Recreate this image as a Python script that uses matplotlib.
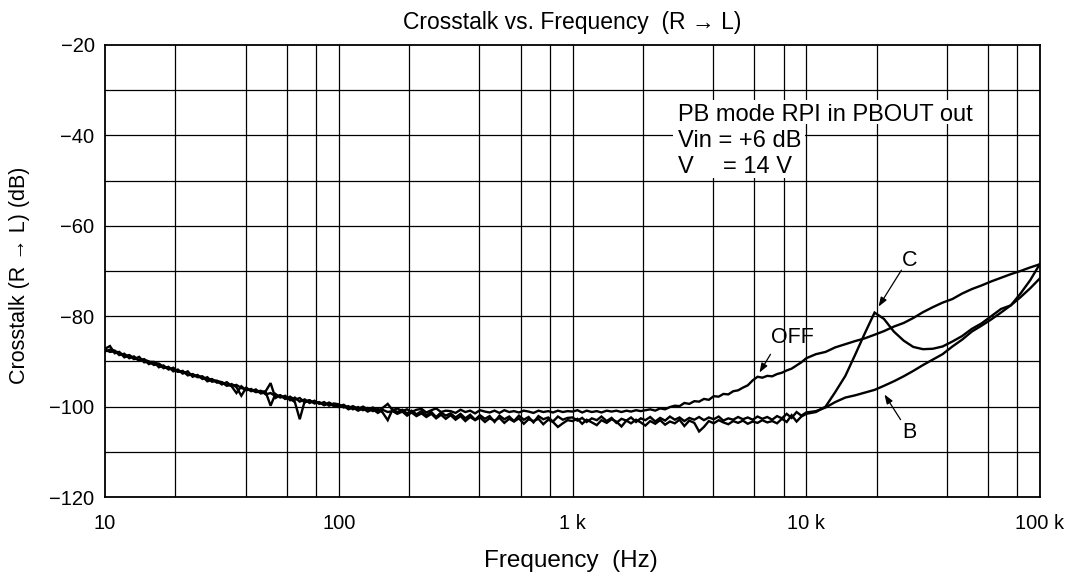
import matplotlib
matplotlib.use("Agg")
import matplotlib.pyplot as plt
from matplotlib.patches import Rectangle
from matplotlib.ticker import FixedLocator, NullLocator

plt.rcParams["font.family"] = ["Liberation Sans", "DejaVu Sans"]

# Measurement frequencies (Hz)
freq_hz = [
    10.0, 10.5, 11.0, 11.5, 12.1, 12.7, 13.3, 14.0, 14.7, 15.4, 16.2, 17.0,
    17.8, 18.7, 19.6, 20.5, 21.5, 22.6, 23.7, 24.9, 26.1, 27.4, 28.7, 30.1,
    31.6, 33.2, 34.8, 36.5, 38.3, 40.2, 42.2, 44.2, 46.4, 48.7, 51.1, 53.6,
    56.2, 59.0, 61.9, 64.9, 68.1, 71.5, 75.0, 78.7, 82.5, 86.6, 90.9, 95.3,
    100, 105, 110, 115, 121, 127, 133, 140, 147, 154, 162, 170,
    178, 187, 196, 205, 215, 226, 237, 249, 261, 274, 287, 301,
    316, 332, 348, 365, 383, 402, 422, 442, 464, 487, 511, 536,
    562, 590, 619, 649, 681, 715, 750, 787, 825, 866, 909, 953,
    1000, 1050, 1100, 1150, 1210, 1270, 1330, 1400, 1470, 1540, 1620, 1700,
    1780, 1870, 1960, 2050, 2150, 2260, 2370, 2490, 2610, 2740, 2870, 3010,
    3160, 3320, 3480, 3650, 3830, 4020, 4220, 4420, 4640, 4870, 5110, 5360,
    5620, 5900, 6190, 6490, 6810, 7150, 7500, 7870, 8250, 8660, 9090, 9530,
    10000, 11000, 12100, 13300, 14700, 16200, 17800, 19600, 21500, 23700,
    26100, 28700, 31600, 34800, 38300, 42200, 46400, 51100, 56200, 61900,
    68100, 75000, 82500, 90900, 100000,
]

# Crosstalk (dB), mode OFF
xt_off = [
    -87.2, -86.6, -88.2, -87.9, -89.1, -88.7, -89.5, -89.0, -90.2, -90.1, -90.1, -91.3,
    -90.9, -91.8, -91.4, -92.3, -92.1, -93.1, -92.8, -93.4, -93.3, -94.4, -94.1, -94.3,
    -95.1, -94.6, -95.5, -97.0, -95.5, -96.4, -96.1, -96.8, -96.7, -96.6, -94.8, -98.1,
    -97.5, -98.3, -97.8, -98.5, -98.1, -99.1, -98.6, -99.3, -99.0, -99.7, -99.1, -99.7,
    -99.9, -99.6, -100.3, -99.9, -100.5, -100.0, -100.6, -100.2, -100.9, -100.3, -99.4, -100.8,
    -100.4, -101.0, -100.6, -101.2, -100.7, -100.5, -101.3, -100.8, -100.4, -101.2, -100.9, -101.0,
    -101.4, -100.7, -101.2, -100.9, -101.5, -100.8, -101.1, -101.3, -100.9, -101.4, -100.8, -101.2,
    -101.0, -101.3, -100.9, -101.1, -101.4, -100.9, -101.2, -101.0, -101.3, -100.9, -101.2, -101.0,
    -101.1, -100.8, -101.3, -100.9, -101.2, -101.0, -101.3, -100.9, -101.1, -100.9, -101.2, -100.9,
    -101.1, -100.8, -101.0, -100.8, -100.6, -100.9, -100.4, -100.6, -100.1, -99.8, -99.9, -99.2,
    -99.4, -98.8, -98.9, -98.3, -98.5, -97.7, -97.8, -97.2, -97.3, -96.6, -96.4, -95.8,
    -95.3, -94.2, -93.4, -93.6, -93.2, -93.3, -92.8, -92.5, -92.0, -91.6, -90.9, -90.2,
    -89.3, -88.4, -87.9, -86.9, -86.2, -85.5, -84.9, -84.1, -83.3, -82.3,
    -81.5, -80.4, -79.1, -78.0, -77.0, -76.2, -75.0, -74.0, -73.2, -72.3,
    -71.5, -70.7, -70.0, -69.2, -68.5,
]

# Crosstalk (dB), mode B
xt_b = [
    -87.8, -87.4, -87.6, -88.6, -88.3, -89.3, -88.9, -89.8, -89.5, -90.6, -90.2, -90.6,
    -91.5, -91.2, -92.2, -91.8, -92.7, -92.2, -93.4, -93.0, -93.9, -93.5, -94.5, -94.3,
    -94.6, -95.4, -95.0, -95.7, -97.6, -95.8, -96.6, -96.2, -97.1, -96.8, -99.8, -97.2,
    -98.0, -97.6, -98.6, -98.0, -98.9, -98.4, -99.2, -98.7, -99.4, -99.0, -99.8, -99.3,
    -99.5, -100.2, -99.9, -100.6, -100.1, -100.8, -100.3, -101.0, -100.5, -101.3, -103.0, -100.6,
    -101.2, -100.7, -101.5, -100.9, -101.7, -101.0, -101.9, -101.2, -102.3, -101.3, -102.0, -101.5,
    -102.4, -101.6, -102.6, -101.8, -102.9, -101.9, -102.7, -102.1, -103.4, -102.0, -102.8, -102.2,
    -103.2, -102.0, -102.9, -102.3, -103.5, -102.1, -102.8, -102.4, -103.3, -102.2, -102.9, -102.5,
    -102.4, -103.1, -102.5, -103.4, -102.6, -103.0, -102.2, -103.2, -102.5, -103.6, -102.7, -103.1,
    -102.4, -103.4, -102.6, -103.0, -102.3, -103.3, -102.5, -103.1, -102.2, -102.9, -102.4, -103.2,
    -102.5, -102.9, -102.3, -103.0, -102.4, -102.8, -102.2, -103.1, -102.6, -102.9, -102.3, -102.8,
    -102.4, -102.9, -102.2, -102.7, -102.3, -102.9, -102.1, -102.6, -101.6, -102.5, -101.2, -102.0,
    -101.3, -101.0, -100.2, -99.0, -98.0, -97.5, -96.9, -96.3, -95.4, -94.4,
    -93.3, -92.1, -90.8, -89.6, -88.4, -86.7, -85.2, -83.4, -82.1, -80.7,
    -79.2, -77.6, -75.8, -73.8, -71.6,
]

# Crosstalk (dB), mode C
xt_c = [
    -87.4, -87.9, -87.8, -88.0, -88.8, -88.6, -89.3, -89.7, -89.6, -90.0, -90.8, -90.5,
    -91.2, -91.6, -91.7, -92.3, -92.2, -92.9, -92.9, -93.5, -93.4, -94.0, -93.9, -94.7,
    -94.6, -95.2, -95.4, -95.2, -95.9, -96.2, -96.4, -96.7, -96.5, -97.3, -97.0, -97.7,
    -97.5, -98.2, -98.3, -99.0, -102.8, -98.8, -98.6, -99.2, -99.1, -99.6, -99.3, -99.9,
    -100.1, -99.8, -100.6, -100.2, -100.9, -100.4, -101.1, -100.6, -101.4, -100.7, -101.2, -101.0,
    -101.6, -101.1, -102.0, -101.3, -102.1, -101.5, -102.3, -101.6, -102.6, -101.8, -102.7, -101.9,
    -102.9, -102.1, -103.2, -102.3, -103.0, -102.4, -103.4, -102.6, -103.1, -102.5, -103.6, -102.7,
    -103.3, -102.6, -103.8, -102.8, -103.2, -102.7, -103.9, -102.9, -103.4, -104.5, -103.7, -103.0,
    -103.2, -102.7, -103.8, -102.9, -103.5, -104.1, -103.0, -103.6, -102.8, -103.3, -104.4, -103.1,
    -103.7, -102.9, -103.5, -104.2, -103.2, -103.8, -103.0, -104.0, -103.3, -103.7, -102.9, -104.3,
    -103.1, -103.6, -105.5, -104.5, -103.2, -103.7, -103.0, -103.5, -103.9, -103.2, -103.6, -103.1,
    -103.8, -103.3, -103.6, -103.0, -103.5, -103.2, -103.7, -102.7, -103.4, -101.9, -103.3, -102.2,
    -101.6, -101.2, -100.0, -96.8, -93.2, -88.5, -83.8, -79.2, -80.6, -83.4,
    -85.4, -86.8, -87.3, -87.2, -86.7, -85.6, -84.4, -82.8, -81.6, -80.0,
    -78.4, -77.6, -75.0, -72.0, -68.4,
]

x_ticks = [10, 100, 1000, 10000, 100000]
x_tick_labels = ["10", "100", "1 k", "10 k", "100 k"]
y_ticks = [-20, -40, -60, -80, -100, -120]

W, H = 1083, 580
fig = plt.figure(figsize=(W / 100, H / 100), dpi=100)
ax = fig.add_axes([105 / W, 1 - 497 / H, 935 / W, 452 / H])


def fx(px):
    return px / W


def fy(py):
    return 1 - py / H


for series in (xt_off, xt_b, xt_c):
    ax.plot(freq_hz, series, color="black", lw=1.7, solid_joinstyle="miter", zorder=3)

ax.set_xscale("log")
ax.set_xlim(10, 100000)
ax.set_ylim(-120, -20)

# Grid: decades plus 2/4/6/8 subdivisions, every 10 dB vertically
grid_x = []
for dec in (10, 100, 1000, 10000):
    grid_x += [2 * dec, 4 * dec, 6 * dec, 8 * dec, 10 * dec]
for gx in grid_x:
    ax.axvline(gx, color="black", lw=0.9, zorder=1)
for gy in range(-110, -20, 10):
    ax.axhline(gy, color="black", lw=0.9, zorder=1)

ax.xaxis.set_major_locator(FixedLocator(x_ticks))
ax.set_xticklabels(x_tick_labels)
ax.xaxis.set_minor_locator(NullLocator())
ax.yaxis.set_major_locator(FixedLocator(y_ticks))
ax.set_yticklabels([f"\u2212{abs(v)}" for v in y_ticks])
ax.tick_params(axis="both", length=0, labelsize=14.5)
ax.tick_params(axis="x", pad=12.5)
ax.tick_params(axis="y", pad=7.5)
for sp in ax.spines.values():
    sp.set_linewidth(1.3)
    sp.set_color("black")

fig.text(fx(572), fy(28.7), "Crosstalk vs. Frequency  (R \u2192 L)",
         fontsize=16.5, ha="center", va="baseline")
fig.text(fx(571), fy(566.5), "Frequency  (Hz)", fontsize=17.5,
         ha="center", va="baseline")
fig.text(fx(20), fy(275), "Crosstalk (R \u2192 L) (dB)", fontsize=15.5,
         rotation=90, ha="center", va="center")

# Measurement conditions on a white backing (drawn above the axes grid)
for x0, y0, x1, y1 in [(673, 100, 983, 124), (673, 124, 805, 178)]:
    fig.add_artist(Rectangle((fx(x0), fy(y1)), (x1 - x0) / W, (y1 - y0) / H,
                             transform=fig.transFigure, facecolor="white",
                             edgecolor="none", zorder=1))
cond_kw = dict(fontsize=17, va="baseline", zorder=3)
fig.text(fx(678), fy(120.7), "PB mode RPI in PBOUT out", **cond_kw)
fig.text(fx(678), fy(147.3), "Vin = +6 dB", **cond_kw)
fig.text(fx(678), fy(173.3), "V", **cond_kw)
fig.text(fx(723), fy(173.3), "= 14 V", **cond_kw)

# Curve labels with pointer arrows
arrow_kw = dict(arrowstyle="-|>,head_length=0.55,head_width=0.2", color="black", lw=0.9)
labels = [
    ("C", (27800, -67.6), (25900, -69.3), (20100, -78.4)),
    ("OFF", (8770, -84.8), (7130, -87.9), (6220, -93.0)),
    ("B", (27500, -105.8), (25700, -103.4), (21300, -96.8)),
]
for name, txt_pos, tail, tip in labels:
    ax.text(txt_pos[0], txt_pos[1], name, fontsize=15.5, ha="center", va="center", zorder=4)
    ax.annotate("", xy=tip, xytext=tail, arrowprops=arrow_kw, zorder=4)

fig.savefig("out.png", dpi=100)
